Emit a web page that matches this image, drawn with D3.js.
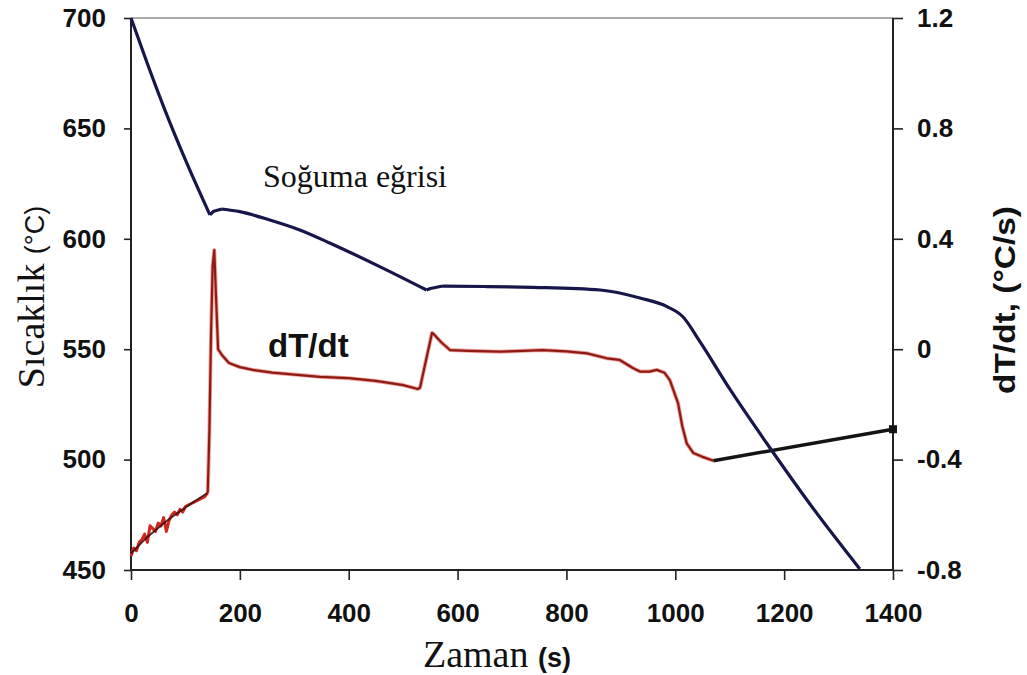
<!DOCTYPE html>
<html>
<head>
<meta charset="utf-8">
<script src="https://cdn.jsdelivr.net/npm/d3@7"></script>
<style>
  html, body { margin: 0; padding: 0; background: #fff; }
  svg { display: block; }
</style>
</head>
<body>
<svg id="chart" width="1027" height="675"></svg>
<script>
// ---- data ----
const xTicks = [0, 200, 400, 600, 800, 1000, 1200, 1400];
const leftTicks = [450, 500, 550, 600, 650, 700];
const rightTicks = [-0.8, -0.4, 0, 0.4, 0.8, 1.2];

// cooling curve (Sıcaklık, °C) — split into smooth pieces at the sharp corners
const coolTime1 = [0, 30, 62, 100, 145];
const coolTemp1 = [700, 679.4, 658.5, 635.7, 610.8];
const coolTime2 = [145, 152, 167];
const coolTemp2 = [610.8, 612.5, 613.5];
const coolTime3 = [167, 200, 255, 310, 366, 457, 543];
const coolTemp3 = [613.5, 612.3, 608.5, 604.0, 598, 587.4, 576.8];
const coolTime4 = [543, 550, 573];
const coolTemp4 = [576.8, 577.5, 578.6];
const coolTime5 = [573, 650, 739, 862, 935, 985, 1014, 1045, 1100, 1168, 1250, 1339];
const coolTemp5 = [578.6, 578.4, 578.0, 576.8, 573.2, 569.3, 564.7, 553.5, 532, 507.4, 479, 450.5];

// dT/dt, noisy start (red)
const noisyTime = [0, 5, 10, 15, 20, 25, 30, 35, 40, 45, 50, 55, 60, 65, 70, 75, 80, 85, 90, 95, 100, 105, 110, 115, 120, 125, 130, 135, 141];
const noisyRate = [-0.75, -0.72, -0.73, -0.70, -0.69, -0.67, -0.70, -0.64, -0.65, -0.66, -0.63, -0.64, -0.61, -0.66, -0.62, -0.60, -0.59, -0.60, -0.58, -0.59, -0.57, -0.565, -0.56, -0.555, -0.55, -0.545, -0.54, -0.535, -0.52];

// dT/dt, smooth overlay at start (black)
const startTime = [0, 30, 70, 110, 141];
const startRate = [-0.74, -0.68, -0.615, -0.56, -0.52];

// dT/dt main (red)
const rateTime = [141, 144, 147, 150, 153, 156, 160, 167, 180, 200, 224, 260, 300, 347, 400, 450, 500, 527, 531, 542, 553, 556, 570, 586, 620, 678, 720, 757, 800, 838, 874, 898, 922, 935, 953, 966, 980, 990, 1005, 1013, 1021, 1033, 1050, 1070];
const rateVal = [-0.52, -0.30, 0.05, 0.30, 0.359, 0.20, 0.0, -0.021, -0.05, -0.065, -0.075, -0.085, -0.092, -0.100, -0.105, -0.115, -0.13, -0.144, -0.14, -0.04, 0.059, 0.055, 0.025, -0.003, -0.006, -0.009, -0.006, -0.003, -0.008, -0.015, -0.033, -0.039, -0.068, -0.081, -0.081, -0.075, -0.085, -0.112, -0.195, -0.28, -0.341, -0.376, -0.39, -0.404];

// dT/dt end (black)
const endTime = [1070, 1400];
const endRate = [-0.404, -0.290];

// ---- layout ----
const svg = d3.select("#chart");
const L = 131, R = 893, T = 18, B = 570;
const x = d3.scaleLinear().domain([0, 1400]).range([L, R]);
const yL = d3.scaleLinear().domain([450, 700]).range([B, T]);
const yR = d3.scaleLinear().domain([-0.8, 1.2]).range([B, T]);

const tickFont = "'Liberation Sans', Arial, sans-serif";
const serif = "'Liberation Serif', 'Times New Roman', serif";

// top frame
svg.append("line").attr("x1", L).attr("x2", R).attr("y1", T).attr("y2", T)
  .attr("stroke", "#555").attr("stroke-width", 1.2);

// axes
const gx = svg.append("g").attr("transform", `translate(0,${B})`)
  .call(d3.axisBottom(x).tickValues(xTicks).tickSize(10).tickPadding(24).tickFormat(d3.format("d")));
const gl = svg.append("g").attr("transform", `translate(${L},0)`)
  .call(d3.axisLeft(yL).tickValues(leftTicks).tickSize(7).tickPadding(18).tickFormat(d3.format("d")));
const gr = svg.append("g").attr("transform", `translate(${R},0)`)
  .call(d3.axisRight(yR).tickValues(rightTicks).tickSize(10).tickPadding(14).tickFormat(d => d === 0 ? "0" : d.toFixed(1)));

[gx, gl, gr].forEach(g => {
  g.select(".domain").attr("stroke", "#222").attr("stroke-width", 2);
  g.selectAll(".tick line").attr("stroke", "#222").attr("stroke-width", 1.6);
  g.selectAll(".tick text").attr("fill", "#111").style("font-family", tickFont)
    .style("font-size", "26px").style("font-weight", "bold");
});
gx.select(".domain").attr("d", `M${L},0H${R}`);
gl.select(".domain").attr("d", `M0,${B}V${T}`);
gr.select(".domain").attr("d", `M0,${B}V${T}`);

// lines
const zip = (a, b) => a.map((v, i) => [v, b[i]]);
const lineR = d3.line().x(d => x(d[0])).y(d => yR(d[1]));
const lineLsmooth = d3.line().x(d => x(d[0])).y(d => yL(d[1])).curve(d3.curveMonotoneX);
const lineLstraight = d3.line().x(d => x(d[0])).y(d => yL(d[1]));

svg.append("path").datum(zip(noisyTime, noisyRate)).attr("d", lineR)
  .attr("fill", "none").attr("stroke", "#d0281e").attr("stroke-width", 3).attr("stroke-linejoin", "round");
svg.append("path").datum(zip(startTime, startRate)).attr("d", lineR)
  .attr("fill", "none").attr("stroke", "#3a0d0d").attr("stroke-width", 2).attr("opacity", 0.85);
svg.append("path").datum(zip(rateTime, rateVal)).attr("d", lineR)
  .attr("fill", "none").attr("stroke", "#e0483c").attr("stroke-width", 4).attr("opacity", 0.5).attr("stroke-linejoin", "round");
svg.append("path").datum(zip(rateTime, rateVal)).attr("d", lineR)
  .attr("fill", "none").attr("stroke", "#8e1a14").attr("stroke-width", 2.2).attr("stroke-linejoin", "round");
svg.append("path").datum(zip(endTime, endRate)).attr("d", lineR)
  .attr("fill", "none").attr("stroke", "#141414").attr("stroke-width", 3.5);
svg.append("rect").attr("x", x(endTime[1]) - 4).attr("y", yR(endRate[1]) - 4).attr("width", 8).attr("height", 8).attr("fill", "#141414");

const coolPieces = [
  [coolTime1, coolTemp1, lineLsmooth],
  [coolTime2, coolTemp2, lineLstraight],
  [coolTime3, coolTemp3, lineLsmooth],
  [coolTime4, coolTemp4, lineLstraight],
  [coolTime5, coolTemp5, lineLsmooth]
];
const coolPath = coolPieces.map(([t, v, gen]) => gen(zip(t, v))).join("");
svg.append("path").attr("d", coolPath)
  .attr("fill", "none").attr("stroke", "#16164a").attr("stroke-width", 3.2).attr("stroke-linejoin", "round");

// annotations
svg.append("text").attr("x", x(242.5)).attr("y", yL(623.4))
  .style("font-family", serif).style("font-size", "32px")
  .attr("fill", "#111").text("Soğuma eğrisi");
svg.append("text").attr("x", x(251.7)).attr("y", yR(-0.028))
  .style("font-family", tickFont).style("font-size", "33px").style("font-weight", "bold")
  .attr("fill", "#111").text("dT/dt");

// axis titles
const xt = svg.append("text").attr("x", 497).attr("y", 667).attr("text-anchor", "middle").attr("fill", "#111");
xt.append("tspan").style("font-family", serif).style("font-size", "38px").text("Zaman ");
xt.append("tspan").style("font-family", tickFont).style("font-size", "27px").style("font-weight", "bold").text(" (s)");

const ylt = svg.append("text").attr("transform", "translate(44,297) rotate(-90)").attr("text-anchor", "middle").attr("fill", "#111");
ylt.append("tspan").style("font-family", serif).style("font-size", "38px").text("Sıcaklık ");
ylt.append("tspan").style("font-family", tickFont).style("font-size", "27px").text(" (°C)");

svg.append("text").attr("transform", "translate(1015,300) rotate(-90)").attr("text-anchor", "middle").attr("fill", "#111")
  .attr("textLength", 188).attr("lengthAdjust", "spacingAndGlyphs")
  .style("font-family", tickFont).style("font-size", "29px").style("font-weight", "bold").text("dT/dt, (°C/s)");
</script>
</body>
</html>
